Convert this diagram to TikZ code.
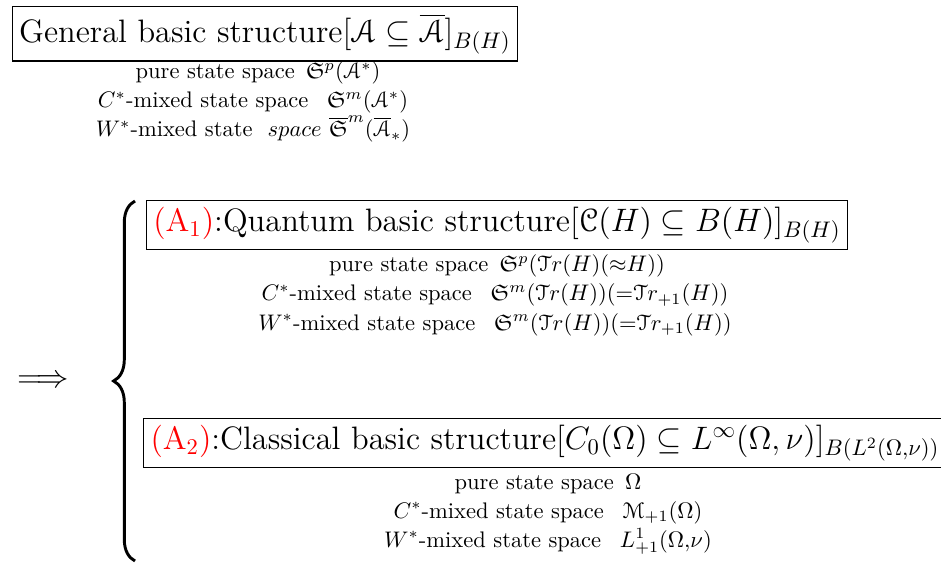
\documentclass[tikz,border=0pt]{standalone}
\usepackage{amsmath,amssymb}
\usepackage{eucal}
\usetikzlibrary{decorations.pathreplacing}

\begin{document}
\begin{tikzpicture}[x=0.444pt,y=-0.444pt,
  titlebox/.style={draw, line width=0.5pt, font=\Large, inner xsep=3pt, inner ysep=3pt},
  stateline/.style={font=\normalsize, inner sep=0pt, anchor=base}]
\useasboundingbox (0,0) rectangle (941,565);
% general structure
\node[titlebox] (gen) at (265,34) {General basic structure$[\mathcal{A}\subseteq\overline{\mathcal{A}}]_{B(H)}$};
\node[stateline] (genp) at (258,79) {pure state space\ \,$\mathfrak{S}^p(\mathcal{A}^*)$};
\node[stateline] (genc) at (253,108) {$C^*$-mixed state space\ \ \,$\mathfrak{S}^m(\mathcal{A}^*)$};
\node[stateline] (genw) at (253,137) {$W^*$-mixed state \ $space$ $\overline{\mathfrak{S}}^m(\overline{\mathcal{A}}_*)$};
% implication and brace
\node[font=\Large] (impl) at (43,382) {$\Longrightarrow$};
\coordinate (brbot) at (135,561);
\coordinate (brtop) at (135,201);
\draw[decorate, decoration={brace, amplitude=9.5pt}, line width=1.3pt] (brbot) -- (brtop);
% quantum
\node[titlebox] (qua) at (497,225) {{\color{red}(A$_1$)}:Quantum basic structure$[\mathcal{C}(H)\subseteq B(H)]_{B(H)}$};
\node[stateline] (quap) at (497,272) {pure state space\ \,$\mathfrak{S}^p(\mathcal{T}r(H)({\approx}H))$};
\node[stateline] (quac) at (495,301) {$C^*$-mixed state space\ \ \,$\mathfrak{S}^m(\mathcal{T}r(H))({=}\mathcal{T}r_{+1}(H))$};
\node[stateline] (quaw) at (495,330) {$W^*$-mixed state space\ \ \,$\mathfrak{S}^m(\mathcal{T}r(H))({=}\mathcal{T}r_{+1}(H))$};
% classical
\node[titlebox] (cla) at (545,443) {{\color{red}(A$_2$)}:Classical basic structure$[C_0(\Omega)\subseteq L^\infty(\Omega,\nu)]_{B(L^2(\Omega{,}\nu))}$};
\node[stateline] (clap) at (548,489) {pure state space\ \,$\Omega$};
\node[stateline] (clac) at (548,518) {$C^*$-mixed state space\ \ \,$\mathcal{M}_{+1}(\Omega)$};
\node[stateline] (claw) at (548,547) {$W^*$-mixed state space\ \ \,$L^1_{+1}(\Omega{,}\nu)$};
\end{tikzpicture}
\end{document}
